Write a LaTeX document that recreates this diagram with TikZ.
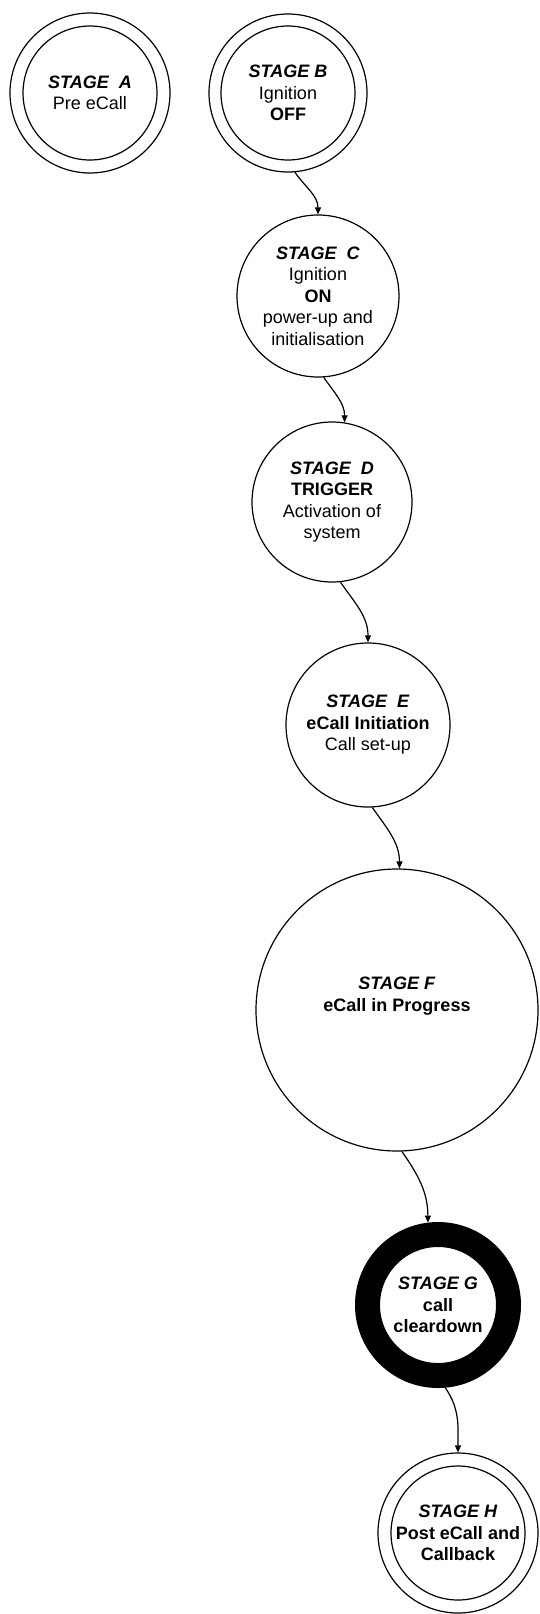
\documentclass[tikz,border=0pt]{standalone}
\usepackage{fontspec}
\setmainfont{Liberation Sans}
\usetikzlibrary{arrows.meta}
\begin{document}
\begin{tikzpicture}[x=1pt,y=1pt,
  stagefont/.style={font=\fontsize{18}{21.5}\selectfont},
  stage/.style={circle, draw, line width=1.2pt, inner sep=0pt, align=center, stagefont},
  ring/.style={circle, draw, line width=25pt, inner sep=0pt, align=center, stagefont},
  innerline/.style={line width=1.2pt},
  flow/.style={line width=1.2pt, -{Triangle[length=7pt,width=6pt]}}]
\useasboundingbox (0,0) rectangle (539,-1614);

% stages A and B: double-ring states
\node[stage, minimum size=160pt] (A) at (90,-93)
  {\textbf{\textit{STAGE~~A}}\\Pre eCall};
\draw[innerline] (A.center) circle[radius=67];
\node[stage, minimum size=158pt] (B) at (288,-93)
  {\textbf{\textit{STAGE B}}\\Ignition\\\textbf{OFF}};
\draw[innerline] (B.center) circle[radius=67];

% stages C to F: plain states
\node[stage, minimum size=162pt] (C) at (318,-296)
  {\textbf{\textit{STAGE~~C}}\\Ignition\\\textbf{ON}\\power-up and\\initialisation};
\node[stage, minimum size=160pt] (D) at (332,-502)
  {\textbf{\textit{STAGE~~D}}\\\textbf{TRIGGER}\\Activation of\\system};
\node[stage, minimum size=164pt] (E) at (368,-725)
  {\textbf{\textit{STAGE~~E}}\\\textbf{eCall Initiation}\\Call set-up};
\node[stage, minimum size=282pt] (F) at (397,-1010) {};
\node[stagefont, align=center] (Flabel) at (397,-996)
  {\textbf{\textit{STAGE F}}\\\textbf{eCall in Progress}};

% stage G: heavy ring
\node[ring, minimum size=141pt] (G) at (438,-1305)
  {\textbf{\textit{STAGE G}}\\\textbf{call}\\\textbf{cleardown}};

% stage H: double ring
\node[stage, minimum size=160pt] (H) at (458,-1533)
  {\textbf{\textit{STAGE H}}\\\textbf{Post eCall and}\\\textbf{Callback}};
\draw[innerline] (H.center) circle[radius=67];

% transitions
\draw[flow] (B.-85) to[out=-55,in=90] (C.north);
\draw[flow] (C.-86) to[out=-55,in=90] (D.81);
\draw[flow] (D.-84) to[out=-55,in=90] (E.north);
\draw[flow] (E.-87) to[out=-55,in=90] (F.89);
\draw[flow] (F.-88) to[out=-55,in=90] (G.97);
\draw[flow] (G.-85) to[out=-55,in=90] (H.north);
\end{tikzpicture}
\end{document}
